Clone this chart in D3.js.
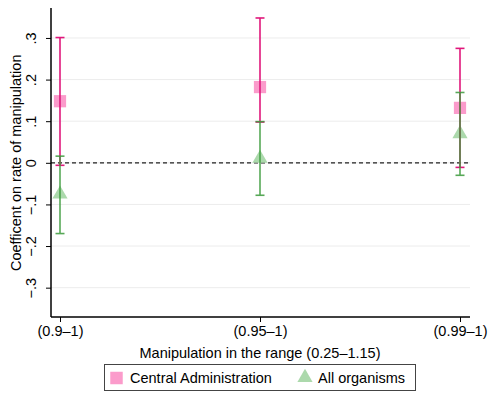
<!DOCTYPE html>
<html>
<head>
<meta charset="utf-8">
<script src="https://cdn.jsdelivr.net/npm/d3@7"></script>
<style>
  body { margin: 0; background: #fff; }
  svg { display: block; font-family: "Liberation Sans", Arial, Helvetica, sans-serif; }
</style>
</head>
<body>
<div id="chart"></div>
<script>
const width = 491, height = 394;
const margin = { top: 8, right: 21, bottom: 77, left: 51 };

// categories and series
const categories = ["(0.9\u20131)", "(0.95\u20131)", "(0.99\u20131)"];
const centralCoef = [0.148, 0.182, 0.132];
const centralLow = [-0.006, 0.098, -0.011];
const centralHigh = [0.301, 0.348, 0.275];
const allCoef = [-0.073, 0.013, 0.072];
const allLow = [-0.170, -0.078, -0.030];
const allHigh = [0.016, 0.099, 0.169];
const yTicks = [-0.3, -0.2, -0.1, 0, 0.1, 0.2, 0.3];
const yTickLabels = ["\u2212.3", "\u2212.2", "\u2212.1", "0", ".1", ".2", ".3"];

const series = [
  { name: "Central Administration", coef: centralCoef, low: centralLow, high: centralHigh,
    marker: "square", fill: "#fb9bcb", line: "#e0177b", lineOpacity: 1 },
  { name: "All organisms", coef: allCoef, low: allLow, high: allHigh,
    marker: "triangle", fill: "#acd9ac", line: "#3a9a3a", lineOpacity: 0.85 }
];

const plotW = width - margin.left - margin.right;
const plotH = height - margin.top - margin.bottom;

const svg = d3.select("#chart").append("svg")
  .attr("width", width)
  .attr("height", height);

const x = d3.scalePoint()
  .domain(categories)
  .range([9, plotW - 10]);

const y = d3.scaleLinear()
  .domain([-0.3705, 0.372])
  .range([plotH, 0]);

const g = svg.append("g")
  .attr("transform", "translate(" + margin.left + "," + margin.top + ")");

// gridlines
g.selectAll(".grid")
  .data(yTicks)
  .enter().append("line")
  .attr("class", "grid")
  .attr("x1", 0).attr("x2", plotW)
  .attr("y1", d => y(d)).attr("y2", d => y(d))
  .style("stroke", "#ececec")
  .style("stroke-width", 1);

// zero reference line
g.append("line")
  .attr("x1", 0).attr("x2", plotW)
  .attr("y1", y(0)).attr("y2", y(0))
  .style("stroke", "#222")
  .style("stroke-width", 1.3)
  .style("stroke-dasharray", "4,3");

// markers
series.forEach(s => {
  const pts = categories.map((c, i) => ({ c: c, v: s.coef[i] }));
  const sym = s.marker === "square" ? d3.symbolSquare : d3.symbolTriangle;
  const size = s.marker === "square" ? 150 : 100;
  g.selectAll(".m-" + s.marker)
    .data(pts)
    .enter().append("path")
    .attr("class", "m-" + s.marker)
    .attr("d", d3.symbol().type(sym).size(size))
    .attr("transform", d => "translate(" + x(d.c) + "," + (y(d.v) + (s.marker === "triangle" ? 1 : 0)) + ")")
    .style("fill", s.fill);
});

// confidence intervals
series.forEach(s => {
  const ci = categories.map((c, i) => ({ c: c, lo: s.low[i], hi: s.high[i] }));
  const grp = g.append("g")
    .style("stroke", s.line)
    .style("stroke-width", 1.6)
    .style("opacity", s.lineOpacity);
  grp.selectAll(".v").data(ci).enter().append("line")
    .attr("x1", d => x(d.c)).attr("x2", d => x(d.c))
    .attr("y1", d => y(d.lo)).attr("y2", d => y(d.hi));
  grp.selectAll(".capTop").data(ci).enter().append("line")
    .attr("x1", d => x(d.c) - 4.5).attr("x2", d => x(d.c) + 4.5)
    .attr("y1", d => y(d.hi)).attr("y2", d => y(d.hi));
  grp.selectAll(".capBot").data(ci).enter().append("line")
    .attr("x1", d => x(d.c) - 4.5).attr("x2", d => x(d.c) + 4.5)
    .attr("y1", d => y(d.lo)).attr("y2", d => y(d.lo));
});

// axes
const xAxis = g.append("g")
  .attr("transform", "translate(0," + plotH + ")")
  .call(d3.axisBottom(x).tickSize(5).tickPadding(4).tickSizeOuter(0));
xAxis.select(".domain").remove();
xAxis.append("line")
  .attr("x1", 0).attr("x2", plotW)
  .style("stroke", "#000").style("stroke-width", 1.5);
xAxis.selectAll("text")
  .style("font-size", "14.5px")
  .style("fill", "#000")
  .style("font-family", "Liberation Sans, Arial, sans-serif");

const yAxis = g.append("g")
  .call(d3.axisLeft(y).tickValues(yTicks).tickSize(5).tickPadding(4)
    .tickFormat((d, i) => yTickLabels[i]));
yAxis.select(".domain").remove();
yAxis.append("line")
  .attr("y1", 0).attr("y2", plotH)
  .style("stroke", "#000").style("stroke-width", 1.5);
yAxis.selectAll(".tick text")
  .attr("x", null).attr("dy", null)
  .attr("transform", "translate(-15,0) rotate(-90)")
  .style("text-anchor", "middle")
  .style("font-size", "14.5px")
  .style("fill", "#000")
  .style("font-family", "Liberation Sans, Arial, sans-serif");

// axis titles
svg.append("text")
  .attr("x", margin.left + x(categories[1]))
  .attr("y", 358)
  .attr("text-anchor", "middle")
  .style("font-size", "14.5px")
  .style("fill", "#000")
  .text("Manipulation in the range (0.25\u20131.15)");

svg.append("text")
  .attr("transform", "translate(21," + (margin.top + y(0)) + ") rotate(-90)")
  .attr("text-anchor", "middle")
  .style("font-size", "14.5px")
  .style("fill", "#000")
  .text("Coefficent on rate of manipulation");

// legend
const legend = svg.append("g");
legend.append("rect")
  .attr("x", 104.5).attr("y", 364.5)
  .attr("width", 311).attr("height", 26)
  .style("fill", "#fff")
  .style("stroke", "#444")
  .style("stroke-width", 1);
legend.append("path")
  .attr("d", d3.symbol().type(d3.symbolSquare).size(156))
  .attr("transform", "translate(116.5,378)")
  .style("fill", series[0].fill);
legend.append("text")
  .attr("x", 130).attr("y", 383)
  .style("font-size", "14.5px").style("fill", "#000")
  .text(series[0].name);
legend.append("path")
  .attr("d", d3.symbol().type(d3.symbolTriangle).size(100))
  .attr("transform", "translate(305,377.5)")
  .style("fill", series[1].fill);
legend.append("text")
  .attr("x", 318).attr("y", 383)
  .style("font-size", "14.5px").style("fill", "#000")
  .text(series[1].name);
</script>
</body>
</html>
